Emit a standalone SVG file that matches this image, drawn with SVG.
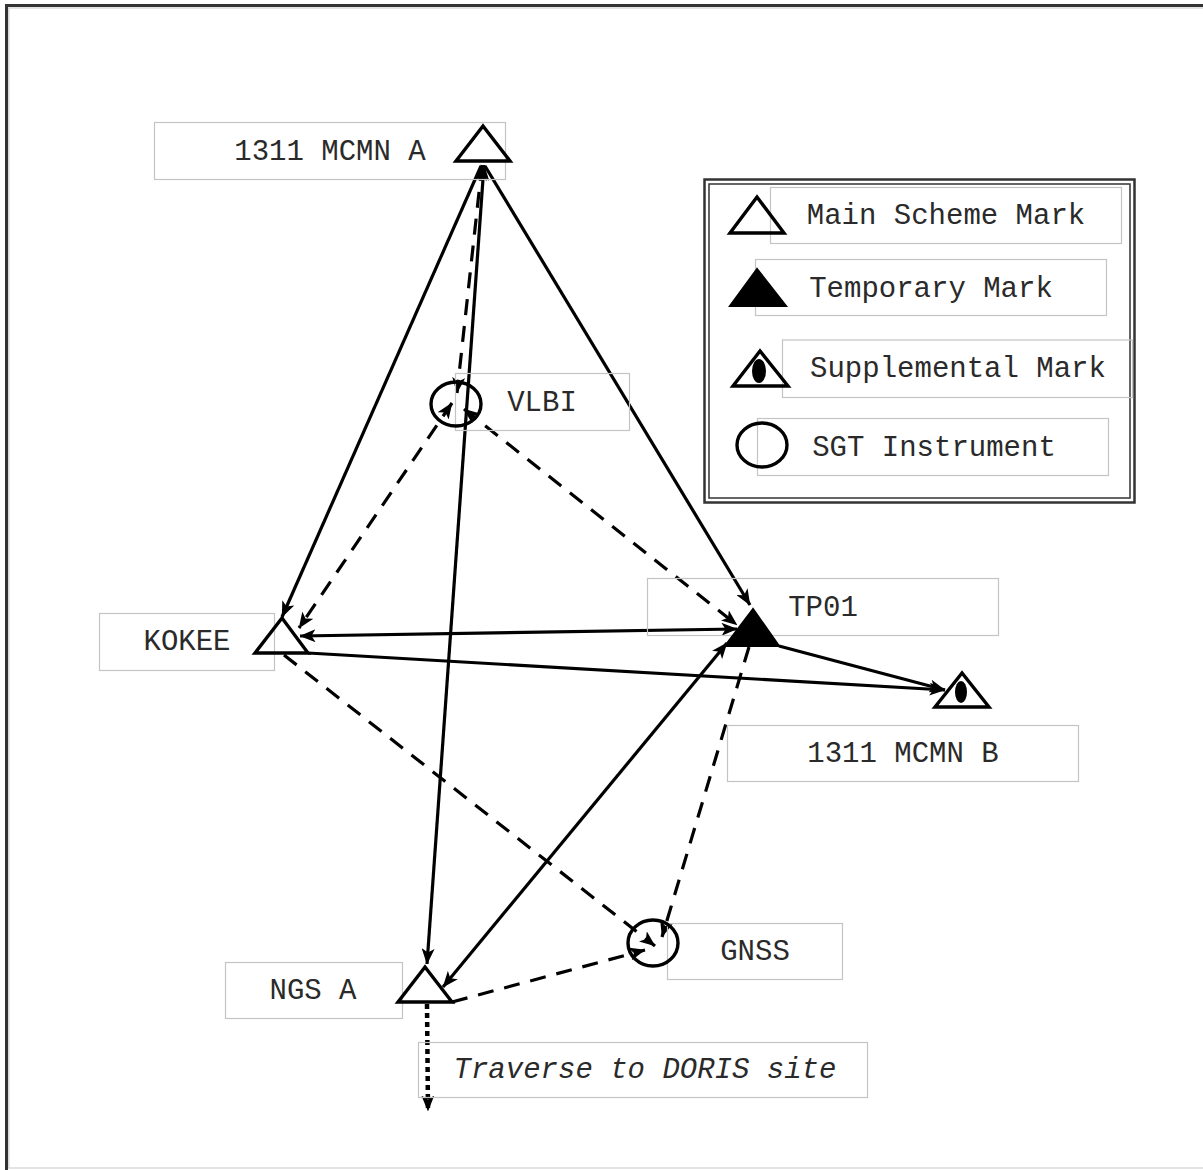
<svg xmlns="http://www.w3.org/2000/svg" width="1203" height="1170" viewBox="0 0 1203 1170">
<style>
.box{fill:none;stroke:#c4c4c4;stroke-width:1.2}
.lbl{font-family:"Liberation Mono","DejaVu Sans Mono",monospace;font-size:29px;fill:#2a2a2a;text-anchor:middle}
.it{font-style:italic}
.mark{fill:none;stroke:#000;stroke-width:3.4;stroke-linejoin:miter}
.solid{fill:none;stroke:#000;stroke-width:3.2}
.dash{fill:none;stroke:#000;stroke-width:3.2;stroke-dasharray:16 11}
.dot{fill:none;stroke:#000;stroke-width:4.5;stroke-dasharray:5 4}
</style>
<defs>
<marker id="arr" viewBox="0 0 16 13" refX="15.5" refY="6.5" markerWidth="16" markerHeight="13" markerUnits="userSpaceOnUse" orient="auto-start-reverse">
<path d="M0,0 L16,6.5 L0,13 L4,6.5 Z" fill="#000"/>
</marker>
</defs>
<rect x="0" y="0" width="1203" height="1170" fill="#fff"/>
<rect x="6.5" y="5.5" width="1220" height="1200" fill="none" stroke="#333" stroke-width="3"/>
<rect x="8.8" y="8" width="1210" height="1160" fill="none" stroke="#d0d0d0" stroke-width="1.2"/>

<g id="connectors">
<path class="solid" d="M481,166 L282,617" marker-end="url(#arr)"/>
<path class="solid" d="M485,166 L750,605" marker-end="url(#arr)"/>
<path class="solid" d="M484,165 L427,964" marker-start="url(#arr)" marker-end="url(#arr)"/>
<path class="dash" d="M482,165 L457,393" marker-start="url(#arr)" marker-end="url(#arr)"/>
<path class="solid" d="M300,636 L737,629" marker-start="url(#arr)" marker-end="url(#arr)"/>
<path class="solid" d="M308,653 L945,690" marker-end="url(#arr)"/>
<path class="solid" d="M779,646 L945,690" marker-end="url(#arr)"/>
<path class="solid" d="M443,987 L727,643" marker-start="url(#arr)" marker-end="url(#arr)"/>
<path class="dash" d="M452,403 L299,628" marker-start="url(#arr)" marker-end="url(#arr)"/>
<path class="dash" d="M464,409 L737,625" marker-start="url(#arr)" marker-end="url(#arr)"/>
<path class="dash" d="M284,655 L655,946" marker-end="url(#arr)"/>
<path class="dash" d="M749,647 L662,937" marker-end="url(#arr)"/>
<path class="dash" d="M452,1002 L645,950" marker-end="url(#arr)"/>
<path class="dot" d="M427,1004 L428,1111" marker-end="url(#arr)"/>
</g>

<g id="mcmn-a">
<rect class="box" x="154.5" y="122.5" width="351" height="57"/>
<text class="lbl" x="330" y="160">1311 MCMN A</text>
<polygon class="mark" points="483,126 456,161 510,161"/>
</g>
<g id="vlbi">
<rect class="box" x="455.5" y="373.5" width="174" height="57"/>
<text class="lbl" x="542" y="410.5">VLBI</text>
<ellipse class="mark" cx="456" cy="404" rx="25" ry="22"/>
</g>
<g id="kokee">
<rect class="box" x="99.5" y="613.5" width="175" height="57"/>
<text class="lbl" x="187" y="650">KOKEE</text>
<polygon class="mark" points="282,618 255,653 308,653"/>
</g>
<g id="tp01">
<rect class="box" x="647.5" y="578.5" width="351" height="57"/>
<text class="lbl" x="823" y="615.5">TP01</text>
<polygon points="753,609 725,646 779,646" fill="#000" stroke="#000" stroke-width="2"/>
</g>
<g id="mcmn-b">
<rect class="box" x="727.5" y="725.5" width="351" height="56"/>
<text class="lbl" x="903" y="761.5">1311 MCMN B</text>
<polygon class="mark" points="962,673 935,707 989,707"/>
<ellipse cx="961" cy="692" rx="6" ry="11" fill="#000"/>
</g>
<g id="gnss">
<rect class="box" x="667.5" y="923.5" width="175" height="56"/>
<text class="lbl" x="755" y="960">GNSS</text>
<ellipse class="mark" cx="653" cy="943" rx="25" ry="23"/>
</g>
<g id="ngs-a">
<rect class="box" x="225.5" y="962.5" width="177" height="56"/>
<text class="lbl" x="313" y="999">NGS A</text>
<polygon class="mark" points="425,967 398,1002 452,1002"/>
</g>
<g id="traverse">
<rect class="box" x="418.5" y="1042.5" width="449" height="55"/>
<text class="lbl it" x="645" y="1078">Traverse to DORIS site</text>
</g>

<g id="legend">
<rect x="704.5" y="179.5" width="430" height="323" fill="#fff" stroke="#333" stroke-width="2.5"/>
<rect x="709" y="184" width="421" height="314" fill="none" stroke="#333" stroke-width="1.5"/>
<g id="legend-main">
<rect class="box" x="770.5" y="187.5" width="351" height="56"/>
<text class="lbl" x="946" y="224">Main Scheme Mark</text>
<polygon class="mark" points="757,197 730,233 784,233"/>
</g>
<g id="legend-temp">
<rect class="box" x="755.5" y="259.5" width="351" height="56"/>
<text class="lbl" x="931" y="296.5">Temporary Mark</text>
<polygon points="757,269 730,306 786,306" fill="#000" stroke="#000" stroke-width="2"/>
</g>
<g id="legend-supp">
<rect class="box" x="782.5" y="340" width="350" height="57.5"/>
<text class="lbl" x="958" y="377">Supplemental Mark</text>
<polygon class="mark" points="760,351 733,386 788,386"/>
<ellipse cx="759" cy="371" rx="7" ry="12" fill="#000"/>
</g>
<g id="legend-sgt">
<rect class="box" x="757.5" y="418.5" width="351" height="57"/>
<text class="lbl" x="934" y="456">SGT Instrument</text>
<ellipse class="mark" cx="762" cy="445" rx="25" ry="22"/>
</g>
</g>
</svg>
